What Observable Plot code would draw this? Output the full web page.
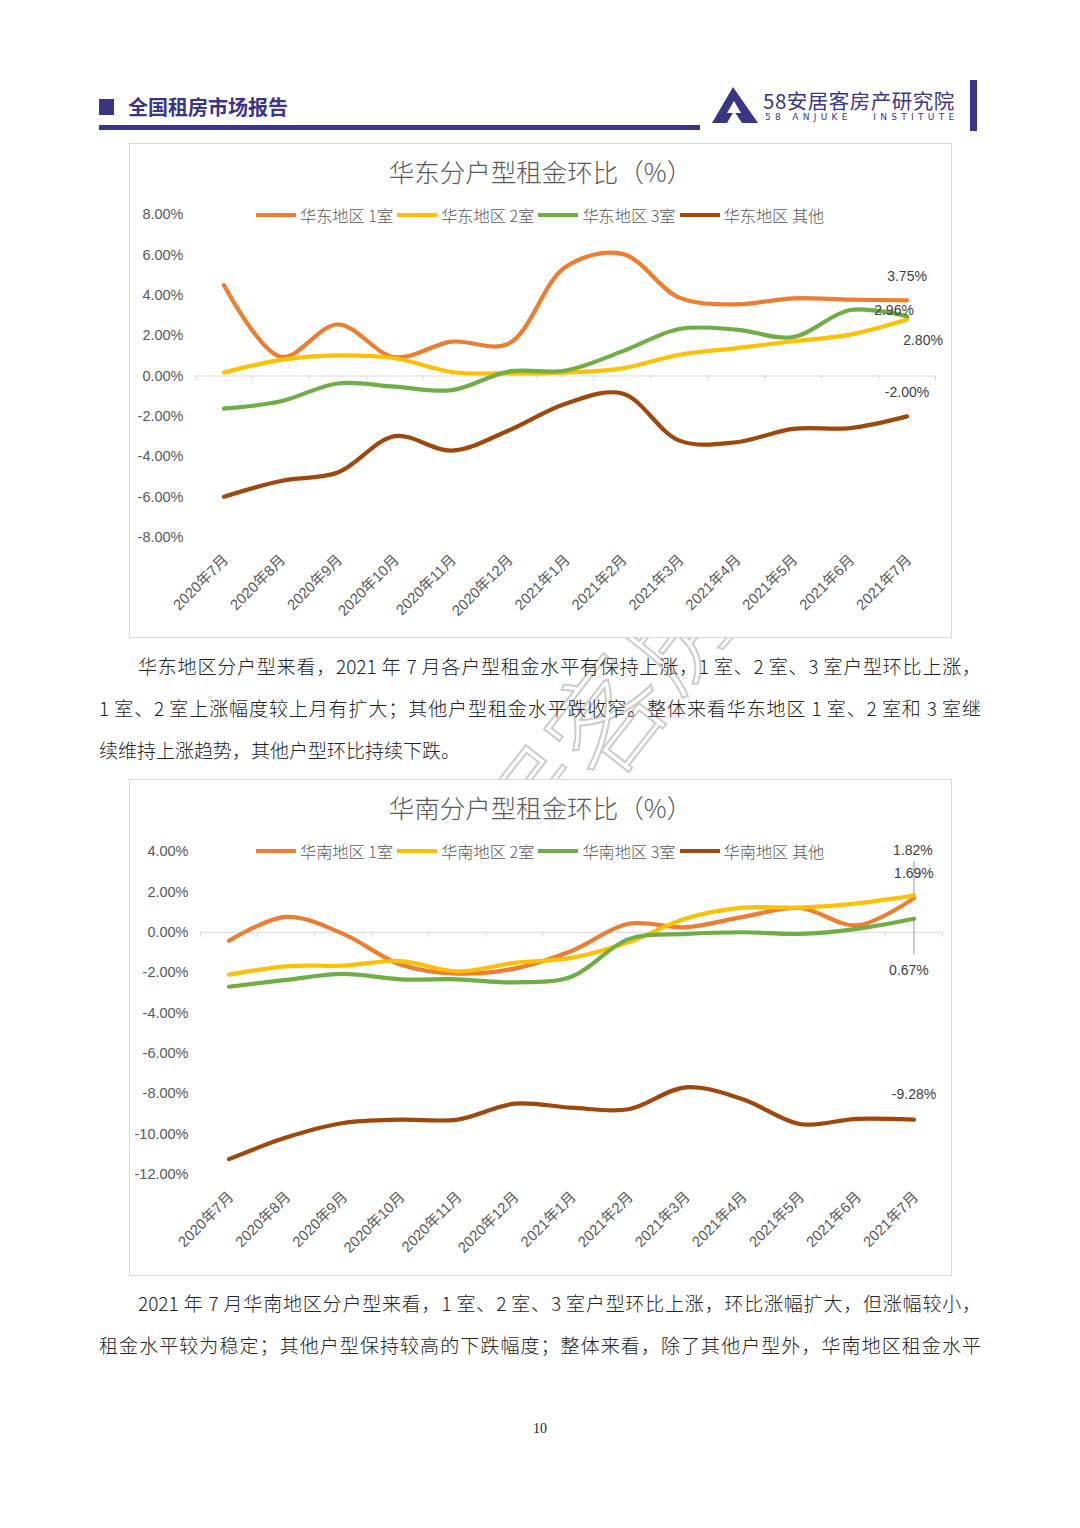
<!DOCTYPE html>
<html>
<head>
<meta charset="utf-8">
<script src="https://cdn.jsdelivr.net/npm/d3@7"></script>
<script src="https://cdn.jsdelivr.net/npm/@observablehq/plot@0.6"></script>
<style>
  html, body { margin: 0; padding: 0; background: #fff; }
  body { position: relative; width: 1080px; height: 1528px; overflow: hidden;
         font-family: "Noto Sans CJK SC", "Noto Sans", sans-serif; color: #222; }
  .abs { position: absolute; }
  .hdr-square { left: 99px; top: 99px; width: 15px; height: 16px; background: #3b3586; }
  .hdr-title { left: 128px; top: 93px; font-size: 20px; font-weight: 700; color: #3b3586; line-height: 28px; }
  .hdr-rule { left: 99px; top: 125px; width: 601px; height: 5px; background: #3b3586; }
  .logo-cn { left: 763px; top: 87px; font-size: 20.5px; color: #3b3586; line-height: 26px; letter-spacing: 0.5px; }
  .logo-en { left: 765px; top: 111px; font-size: 9px; color: #3b3586; line-height: 12px; letter-spacing: 4.3px; font-family: "DejaVu Sans", sans-serif; }
  .logo-bar { left: 970px; top: 80px; width: 7px; height: 51px; background: #3b3586; }
  .box { background: #fff; border: 1px solid #d9d9d9; box-sizing: border-box; }
  .ctitle { left: 0; width: 100%; text-align: center; font-size: 25.5px; color: #595959; line-height: 32px; font-weight: 300; }
  .legend { display: flex; align-items: center; font-size: 16.2px; color: #595959; line-height: 20px; white-space: nowrap; font-weight: 300; }
  .legend .sw { width: 40px; height: 4px; margin-right: 4px; }
  .legend .lb { margin-right: 4px; }
  .para { left: 99px; width: 882px; font-size: 19px; line-height: 42px; color: #222; font-weight: 300; }
  .para div { text-align: justify; text-align-last: justify; }
  .para div.last { text-align-last: left; }
  .para div.first { text-indent: 39px; }
  .pageno { left: 0; width: 1080px; top: 1421px; text-align: center; font-size: 14px; color: #222; font-family: "Liberation Serif", serif; }
  .wm { left: 470px; top: 860px; font-size: 115px; line-height: 115px; color: transparent; -webkit-text-stroke: 2px #cccccc;
        transform: rotate(-52deg); transform-origin: 0 100%; white-space: nowrap; font-weight: 300; }
  svg text { font-family: "Liberation Sans Narrow", "Liberation Sans", "Noto Sans CJK SC", sans-serif; }
</style>
</head>
<body>

<div class="abs wm">安居客房产</div>

<div class="abs hdr-square"></div>
<div class="abs hdr-title">全国租房市场报告</div>
<div class="abs hdr-rule"></div>
<svg class="abs" style="left:712px;top:87px" width="46" height="37" viewBox="0 0 46 37">
  <path d="M21 0 L46 36 L30 36 L22 24 L15 36 L0 36 Z" fill="#3b3586"/>
  <path d="M22 14 L29 26 L15 26 Z" fill="#fff"/>
</svg>
<div class="abs logo-cn">58安居客房产研究院</div>
<div class="abs logo-en">58 ANJUKE&nbsp;&nbsp; INSTITUTE</div>
<div class="abs logo-bar"></div>

<div class="abs box" id="box1" style="left:129px;top:143px;width:823px;height:495px;">
  <div class="abs ctitle" style="top:11px;">华东分户型租金环比（%）</div>
  <div class="abs" id="chart1" style="left:0;top:0;"></div>
  <div class="abs legend" id="legend1" style="left:126px;top:61px;"></div>
</div>

<div class="abs para" style="top:645px;">
  <div class="first">华东地区分户型来看，2021 年 7 月各户型租金水平有保持上涨，1 室、2 室、3 室户型环比上涨，</div>
  <div>1 室、2 室上涨幅度较上月有扩大；其他户型租金水平跌收窄。整体来看华东地区 1 室、2 室和 3 室继</div>
  <div class="last">续维持上涨趋势，其他户型环比持续下跌。</div>
</div>

<div class="abs box" id="box2" style="left:129px;top:779px;width:823px;height:497px;">
  <div class="abs ctitle" style="top:11px;">华南分户型租金环比（%）</div>
  <div class="abs" id="chart2" style="left:0;top:0;"></div>
  <div class="abs legend" id="legend2" style="left:126px;top:61px;"></div>
</div>

<div class="abs para" style="top:1282px;">
  <div class="first">2021 年 7 月华南地区分户型来看，1 室、2 室、3 室户型环比上涨，环比涨幅扩大，但涨幅较小，</div>
  <div>租金水平较为稳定；其他户型保持较高的下跌幅度；整体来看，除了其他户型外，华南地区租金水平</div>
</div>

<div class="abs pageno">10</div>

<script>
// ---------- DATA ----------
const months = ["2020年7月","2020年8月","2020年9月","2020年10月","2020年11月","2020年12月",
                "2021年1月","2021年2月","2021年3月","2021年4月","2021年5月","2021年6月","2021年7月"];

// 华东 (East China)
const eastNames = ["华东地区 1室","华东地区 2室","华东地区 3室","华东地区 其他"];
const east1  = [4.50, 0.95, 2.55, 0.93, 1.70, 1.60, 5.40, 6.05, 3.88, 3.55, 3.85, 3.78, 3.75];
const east2  = [0.17, 0.80, 1.02, 0.88, 0.20, 0.13, 0.17, 0.38, 1.05, 1.38, 1.72, 2.05, 2.80];
const east3  = [-1.62, -1.25, -0.37, -0.53, -0.70, 0.22, 0.27, 1.22, 2.33, 2.30, 1.93, 3.27, 2.96];
const eastO  = [-5.98, -5.20, -4.78, -2.98, -3.70, -2.70, -1.37, -0.87, -3.20, -3.28, -2.62, -2.58, -2.00];
const eastTicks = [8, 6, 4, 2, 0, -2, -4, -6, -8];

// 华南 (South China)
const southNames = ["华南地区 1室","华南地区 2室","华南地区 3室","华南地区 其他"];
const south1 = [-0.42, 0.76, -0.08, -1.60, -2.05, -1.80, -0.93, 0.42, 0.25, 0.76, 1.20, 0.34, 1.69];
const south2 = [-2.10, -1.69, -1.65, -1.43, -1.94, -1.52, -1.27, -0.50, 0.68, 1.22, 1.22, 1.43, 1.82];
const south3 = [-2.70, -2.36, -2.06, -2.33, -2.33, -2.48, -2.20, -0.34, -0.08, 0.00, -0.08, 0.17, 0.67];
const southO = [-11.24, -10.17, -9.45, -9.28, -9.28, -8.49, -8.69, -8.77, -7.68, -8.27, -9.50, -9.24, -9.28];
const southTicks = [4, 2, 0, -2, -4, -6, -8, -10, -12];

const seriesColors = ["#ED7D31", "#FFC000", "#70AD47", "#9E480E"];

// ---------- BUILD ----------
function toRows(names, arrays) {
  const rows = [];
  arrays.forEach((arr, k) => arr.forEach((v, i) => rows.push({s: names[k], i, v})));
  return rows;
}
const pct = v => v.toFixed(2) + "%";

function legend(el, names) {
  const host = document.getElementById(el);
  names.forEach((n, k) => {
    const sw = document.createElement("span");
    sw.className = "sw"; sw.style.background = seriesColors[k];
    const lb = document.createElement("span");
    lb.className = "lb"; lb.textContent = n;
    host.appendChild(sw); host.appendChild(lb);
  });
}

function chart(el, names, arrays, ticks, dims, labelMarks) {
  const rows = toRows(names, arrays);
  const boundaries = d3.range(-0.5, months.length, 1);
  const p = Plot.plot({
    width: dims.width, height: dims.height,
    marginLeft: dims.ml, marginRight: dims.mr, marginTop: dims.mt, marginBottom: dims.mb,
    style: {background: "transparent", color: "#595959", fontSize: "14.5px"},
    x: {type: "linear", domain: [-0.5, months.length - 0.5], axis: null},
    y: {domain: [d3.min(ticks), d3.max(ticks)], axis: null},
    color: {domain: names, range: seriesColors},
    marks: [
      Plot.ruleY([0], {stroke: "#d9d9d9", strokeWidth: 1}),
      Plot.ruleX(boundaries, {x: d => d, y1: 0, y2: 0, insetBottom: -5, stroke: "#d9d9d9"}),
      Plot.axisY({ticks, tickSize: 0, tickPadding: 12, tickFormat: pct, label: null, fontSize: 14.5, fill: "#595959"}),
      Plot.axisX({ticks: d3.range(months.length), tickSize: 0, tickPadding: 20, tickRotate: -45, label: null,
                  tickFormat: i => months[i], fontSize: 14.8, fill: "#595959", dx: 2}),
      Plot.line(rows, {x: "i", y: "v", z: "s", stroke: "s", curve: "catmull-rom", strokeWidth: 4.2,
                       strokeLinecap: "round", strokeLinejoin: "round"}),
      ...labelMarks(rows)
    ]
  });
  document.getElementById(el).appendChild(p);
}

const lastOf = (rows, name) => rows.filter(r => r.s === name && r.i === months.length - 1);
const lbl = (rows, name, dx, dy) =>
  Plot.text(lastOf(rows, name), {x: "i", y: "v", text: d => pct(d.v), dx, dy, fontSize: 14, fill: "#404040"});

chart("chart1", eastNames, [east1, east2, east3, eastO], eastTicks,
  {width: 821, height: 493, ml: 65, mr: 16, mt: 70, mb: 100},
  rows => [
    lbl(rows, eastNames[0], 0, -24),
    lbl(rows, eastNames[2], -13, -6),
    lbl(rows, eastNames[1], 16, 21),
    lbl(rows, eastNames[3], 0, -24)
  ]);

chart("chart2", southNames, [south1, south2, south3, southO], southTicks,
  {width: 821, height: 495, ml: 70, mr: 9, mt: 71, mb: 101},
  rows => [
    Plot.ruleX(lastOf(rows, southNames[1]), {x: "i", y1: "v", y2: "v", insetTop: -34, stroke: "#7f7f7f", strokeWidth: 0.8}),
    Plot.ruleX(lastOf(rows, southNames[2]), {x: "i", y1: "v", y2: "v", insetBottom: -36, stroke: "#7f7f7f", strokeWidth: 0.8}),
    lbl(rows, southNames[1], -1, -45),
    lbl(rows, southNames[0], 0, -25),
    lbl(rows, southNames[2], -5, 52),
    lbl(rows, southNames[3], 0, -25)
  ]);

legend("legend1", eastNames);
legend("legend2", southNames);
</script>
</body>
</html>
